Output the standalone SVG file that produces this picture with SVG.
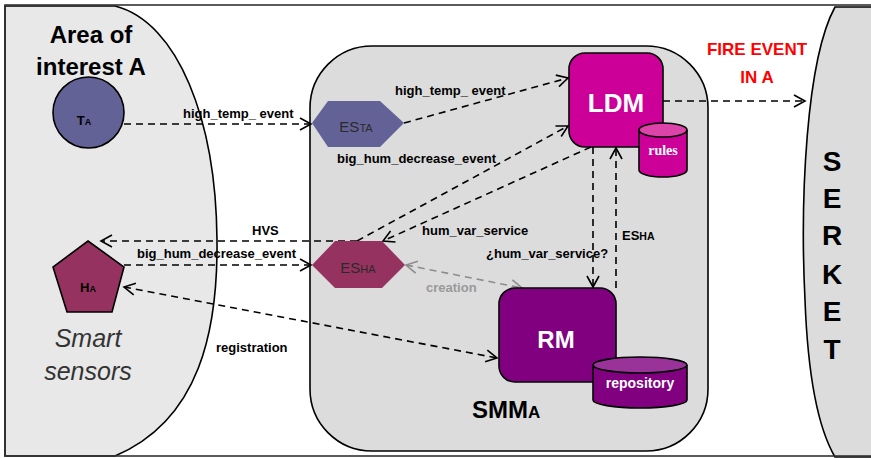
<svg xmlns="http://www.w3.org/2000/svg" width="871" height="458" viewBox="0 0 871 458">
<style>
  text { font-family: "Liberation Sans", Arial, sans-serif; }
  .lbl { font-size: 13px; font-weight: bold; fill: #000; }
  .conn { fill: none; stroke: #000; stroke-width: 1.6; stroke-dasharray: 7 5; }
  .gconn { fill: none; stroke: #8c8c8c; stroke-width: 1.6; stroke-dasharray: 7 5; }
  .node { stroke: #000; stroke-width: 1.6; }
  .wt { fill: #fff; font-weight: bold; text-anchor: middle; }
</style>
<defs>
  <marker id="arr" markerUnits="userSpaceOnUse" markerWidth="14" markerHeight="14" viewBox="0 0 14 14" refX="12" refY="7" orient="auto-start-reverse">
    <path d="M1,1 L12,7 L1,13" fill="none" stroke="#000" stroke-width="1.6"/>
  </marker>
  <marker id="garr" markerUnits="userSpaceOnUse" markerWidth="14" markerHeight="14" viewBox="0 0 14 14" refX="12" refY="7" orient="auto-start-reverse">
    <path d="M1,1 L12,7 L1,13" fill="none" stroke="#8c8c8c" stroke-width="1.6"/>
  </marker>
</defs>
<rect x="0" y="0" width="871" height="458" fill="#fff"/>

<g id="area">
  <path d="M5,6 L115,6 C178,22 216,120 217,240 C218,330 200,420 115,456 L5,456 Z" fill="#e8e8e8" stroke="#000" stroke-width="1.6"/>
  <text x="91" y="43" font-size="24" font-weight="bold" text-anchor="middle">Area of</text>
  <text x="91" y="75" font-size="24" font-weight="bold" text-anchor="middle">interest A</text>
  <text x="88" y="347" font-size="25" font-style="italic" fill="#333" text-anchor="middle">Smart</text>
  <text x="88" y="380" font-size="25" font-style="italic" fill="#333" text-anchor="middle">sensors</text>
</g>

<g id="smm">
  <rect x="310" y="46" width="398" height="405" rx="62" ry="62" fill="#dcdcdc" stroke="#000" stroke-width="1.6"/>
  <text x="472" y="418" font-size="24" font-weight="bold">SMM<tspan font-size="17">A</tspan></text>
</g>

<g id="serket">
  <path d="M873,7 L835,7 C806,60 800,200 805,300 C808,380 818,428 835,457 L873,457 Z" fill="#dcdcdc" stroke="#000" stroke-width="1.6"/>
  <g font-size="28" font-weight="bold" text-anchor="middle">
    <text x="832" y="171">S</text>
    <text x="832" y="208">E</text>
    <text x="832" y="245">R</text>
    <text x="832" y="284">K</text>
    <text x="832" y="321">E</text>
    <text x="832" y="359">T</text>
  </g>
</g>

<rect x="5" y="5" width="870" height="451" fill="none" stroke="#333" stroke-width="1.6"/>

<g id="fire">
  <text x="757" y="55" font-size="17" font-weight="bold" fill="#ff0000" text-anchor="middle">FIRE EVENT</text>
  <text x="757" y="83" font-size="17" font-weight="bold" fill="#ff0000" text-anchor="middle">IN A</text>
</g>

<g id="connectors">
  <path class="conn" d="M124,124 L311,124" marker-end="url(#arr)"/>
  <path class="conn" d="M404,123 L568,78" marker-end="url(#arr)"/>
  <path class="conn" d="M357,241 L568,126" marker-end="url(#arr)"/>
  <path class="conn" d="M591,147 L383,241" marker-end="url(#arr)"/>
  <path class="conn" d="M357,241 L101,241" marker-end="url(#arr)"/>
  <path class="conn" d="M124,265 L311,265" marker-end="url(#arr)"/>
  <path class="conn" d="M124,287 L497,358" marker-start="url(#arr)" marker-end="url(#arr)"/>
  <path class="gconn" d="M406,265 L522,288" marker-start="url(#garr)" marker-end="url(#garr)"/>
  <path class="conn" d="M593,147 L593,287" marker-end="url(#arr)"/>
  <path class="conn" d="M616,288 L616,148" marker-end="url(#arr)"/>
  <path class="conn" d="M663,101 L805,101" marker-end="url(#arr)"/>

  <text class="lbl" x="183" y="118">high_temp_ event</text>
  <text class="lbl" x="395" y="95">high_temp_ event</text>
  <text class="lbl" x="337" y="163">big_hum_decrease_event</text>
  <text class="lbl" x="422" y="235">hum_var_service</text>
  <text class="lbl" x="252" y="235">HVS</text>
  <text class="lbl" x="137" y="258">big_hum_decrease_event</text>
  <text class="lbl" x="486" y="258">¿hum_var_service?</text>
  <text class="lbl" x="622" y="240" font-size="14">ES<tspan font-size="10.5">HA</tspan></text>
  <text class="lbl" x="426" y="292" style="fill:#999">creation</text>
  <text class="lbl" x="216" y="352">registration</text>
</g>

<g id="TA">
  <circle class="node" cx="88.5" cy="112.5" r="35.5" fill="#636296"/>
  <text x="84" y="125" font-size="13" font-weight="bold" text-anchor="middle">T<tspan font-size="9">A</tspan></text>
</g>

<g id="HA">
  <polygon class="node" points="88,241 124,267 112,312 67,312 53,267" fill="#96325f"/>
  <text x="88" y="292" font-size="13" font-weight="bold" text-anchor="middle">H<tspan font-size="9">A</tspan></text>
</g>

<g id="ESTA">
  <polygon points="312,123 328,101 380,101 404,123 380,147 328,147" fill="#636296"/>
  <text x="356" y="132" font-size="15" fill="#2a2a2a" text-anchor="middle">ES<tspan font-size="11">TA</tspan></text>
</g>

<g id="ESHA">
  <polygon points="312,265 335,241 382,241 405,265 382,288 335,288" fill="#96325f"/>
  <text x="358" y="273" font-size="15" fill="#2a2a2a" text-anchor="middle">ES<tspan font-size="11">HA</tspan></text>
</g>

<g id="LDM">
  <rect class="node" x="569" y="53" width="94" height="94" rx="16" fill="#cc0099"/>
  <text class="wt" x="616" y="112" font-size="26">LDM</text>
</g>

<g id="rules">
  <path class="node" d="M639,130 L639,170 A24,7 0 0 0 687,170 L687,130" fill="#cc0099"/>
  <ellipse class="node" cx="663" cy="130" rx="24" ry="7" fill="#dd44aa"/>
  <text class="wt" x="663" y="155" font-size="14" style="font-family:'Liberation Serif',serif">rules</text>
</g>

<g id="RM">
  <rect class="node" x="499" y="288" width="117" height="94" rx="16" fill="#800080"/>
  <text class="wt" x="556" y="348" font-size="24">RM</text>
</g>

<g id="repository">
  <path class="node" d="M593,365 L593,400 A47,8 0 0 0 687,400 L687,365" fill="#800080"/>
  <ellipse class="node" cx="640" cy="365" rx="47" ry="8" fill="#993399"/>
  <text class="wt" x="640" y="388" font-size="14">repository</text>
</g>
</svg>
